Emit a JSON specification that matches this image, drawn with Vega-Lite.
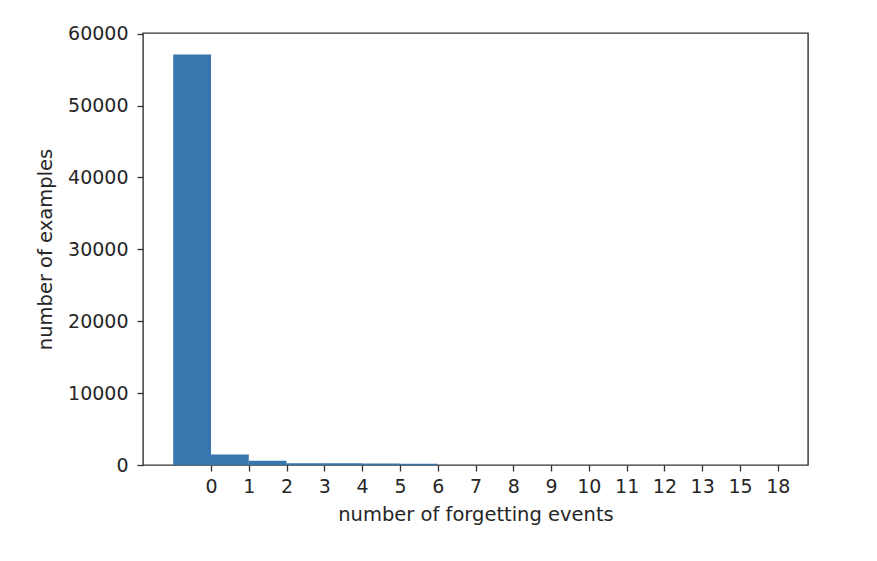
{
  "$schema": "https://vega.github.io/schema/vega-lite/v6.json",
  "width": 665,
  "height": 432,
  "autosize": {"type": "none"},
  "padding": {"left": 143, "top": 33, "right": 69, "bottom": 96},
  "background": "white",
  "config": {
    "font": "DejaVu Sans",
    "view": {"stroke": "#333333", "strokeWidth": 1.4},
    "axis": {
      "grid": false,
      "domain": false,
      "ticks": true,
      "tickColor": "#333333",
      "tickWidth": 1.3,
      "tickSize": 6,
      "labelFont": "DejaVu Sans",
      "labelFontSize": 19,
      "labelColor": "#262626",
      "labelFlush": false,
      "labelOverlap": false,
      "labelBound": false,
      "titleFont": "DejaVu Sans",
      "titleFontSize": 19.5,
      "titleFontWeight": "normal",
      "titleColor": "#262626"
    }
  },
  "data": {
    "values": [
      {"events": "0", "bin_start": -1, "bin_end": 0, "count": 57100},
      {"events": "1", "bin_start": 0, "bin_end": 1, "count": 1450},
      {"events": "2", "bin_start": 1, "bin_end": 2, "count": 600},
      {"events": "3", "bin_start": 2, "bin_end": 3, "count": 250},
      {"events": "4", "bin_start": 3, "bin_end": 4, "count": 230},
      {"events": "5", "bin_start": 4, "bin_end": 5, "count": 210},
      {"events": "6", "bin_start": 5, "bin_end": 6, "count": 190}
    ]
  },
  "mark": {"type": "rect", "color": "#3776af"},
  "encoding": {
    "x": {
      "field": "bin_start",
      "type": "quantitative",
      "scale": {"domain": [-1.8, 15.8], "nice": false, "zero": false},
      "axis": {
        "values": [0, 1, 2, 3, 4, 5, 6, 7, 8, 9, 10, 11, 12, 13, 14, 15],
        "labelExpr": "datum.value == 14 ? '15' : datum.value == 15 ? '18' : datum.label",
        "labelPadding": 6,
        "title": "number of forgetting events",
        "titlePadding": 9
      }
    },
    "x2": {"field": "bin_end"},
    "y": {
      "field": "count",
      "type": "quantitative",
      "scale": {"domain": [0, 60100], "nice": false},
      "axis": {
        "values": [0, 10000, 20000, 30000, 40000, 50000, 60000],
        "format": "d",
        "labelPadding": 9,
        "title": "number of examples",
        "titlePadding": 12
      }
    },
    "y2": {"datum": 0}
  }
}
